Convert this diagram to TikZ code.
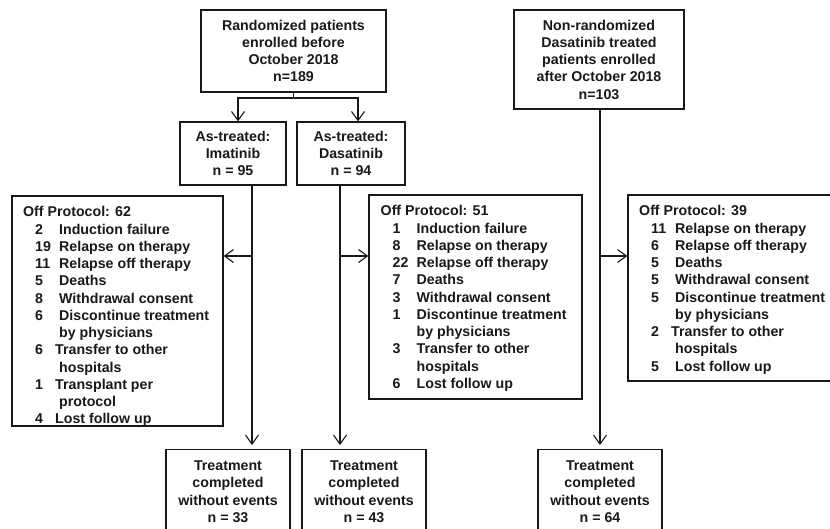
\documentclass[tikz,border=0pt]{standalone}
\usepackage{fontspec}
\setmainfont{Liberation Sans}
\usetikzlibrary{arrows.meta}
\newcommand\offitem[2][24pt]{\hspace*{12pt}\makebox[#1][l]{#2}}
\newcommand\offcont{\hspace*{36pt}}
\begin{document}
\begin{tikzpicture}[x=1pt,y=-1pt,
  every node/.style={font=\fontsize{14.2}{17.25}\selectfont\bfseries, text=black!90},
  box/.style={draw=black!90, line width=1.2pt, inner sep=0pt, align=center},
  conn/.style={draw=black!90, line width=1.1pt},
  arr/.style={conn, -{Straight Barb[length=9pt,width=13pt,line width=1.1pt]}},
  lst/.style={anchor=north west, inner sep=0pt}]
\path[use as bounding box, clip] (0,0) rectangle (830,528);
\fill[white] (0,0) rectangle (830,528);

% top boxes
\node[box, minimum width=185pt, minimum height=82pt] (rand) at (293.5,51)
  {Randomized patients\\enrolled before\\October 2018\\n=189};
\node[box, minimum width=106pt, minimum height=63pt] (imat) at (233,153.5)
  {As-treated:\\Imatinib\\n = 95};
\node[box, minimum width=108pt, minimum height=63pt] (dasa) at (351,153.5)
  {As-treated:\\Dasatinib\\n = 94};
\node[box, minimum width=170pt, minimum height=99pt] (nonr) at (599,59.5)
  {Non-randomized\\Dasatinib treated\\patients enrolled\\after October 2018\\n=103};

% off protocol boxes
\node[box, minimum width=211pt, minimum height=230pt] (off62) at (117.5,311) {};
\node[box, minimum width=213pt, minimum height=204pt] (off51) at (475.5,297) {};
\node[box, minimum width=204pt, minimum height=186pt] (off39) at (730,288) {};

\node[lst] (t62) at (23,204.7) {\begin{tabular}{@{}l@{}}
Off Protocol: 62\\
\offitem{2}Induction failure\\
\offitem{19}Relapse on therapy\\
\offitem{11}Relapse off therapy\\
\offitem{5}Deaths\\
\offitem{8}Withdrawal consent\\
\offitem{6}Discontinue treatment\\
\offcont by physicians\\
\offitem[20pt]{6}Transfer to other\\
\offcont hospitals\\
\offitem[20pt]{1}Transplant per\\
\offcont protocol\\
\offitem[20pt]{4}Lost follow up
\end{tabular}};

\node[lst] (t51) at (380.5,203.7) {\begin{tabular}{@{}l@{}}
Off Protocol: 51\\
\offitem{1}Induction failure\\
\offitem{8}Relapse on therapy\\
\offitem{22}Relapse off therapy\\
\offitem{7}Deaths\\
\offitem{3}Withdrawal consent\\
\offitem{1}Discontinue treatment\\
\offcont by physicians\\
\offitem{3}Transfer to other\\
\offcont hospitals\\
\offitem{6}Lost follow up
\end{tabular}};

\node[lst] (t39) at (639,203.7) {\begin{tabular}{@{}l@{}}
Off Protocol: 39\\
\offitem{11}Relapse on therapy\\
\offitem{6}Relapse off therapy\\
\offitem{5}Deaths\\
\offitem{5}Withdrawal consent\\
\offitem{5}Discontinue treatment\\
\offcont by physicians\\
\offitem[20pt]{2}Transfer to other\\
\offcont hospitals\\
\offitem{5}Lost follow up
\end{tabular}};

% bottom boxes
\node[box, minimum width=124pt, minimum height=84pt, anchor=north] (t33) at (228,449)
  {Treatment\\completed\\without events\\n = 33};
\node[box, minimum width=124pt, minimum height=84pt, anchor=north] (t43) at (364,449)
  {Treatment\\completed\\without events\\n = 43};
\node[box, minimum width=124pt, minimum height=84pt, anchor=north] (t64) at (600,449)
  {Treatment\\completed\\without events\\n = 64};

% connectors
\coordinate (split) at (293.5,98);
\draw[conn] (rand.south) -- (split);
\draw[arr] (split) -| ([xshift=5pt]imat.north);
\draw[arr] (split) -| ([xshift=7pt]dasa.north);

\coordinate (lineI) at (252,256);
\coordinate (lineD) at (340,256);
\coordinate (lineN) at (600,256);
\draw[arr, shorten >=4pt] (imat.south -| lineI) -- (t33.north -| lineI);
\draw[arr] (lineI) -- (off62.east |- lineI);
\draw[arr, shorten >=4pt] (dasa.south -| lineD) -- (t43.north -| lineD);
\draw[arr] (lineD) -- (off51.west |- lineD);
\draw[arr, shorten >=4pt] (nonr.south -| lineN) -- (t64.north -| lineN);
\draw[arr] (lineN) -- (off39.west |- lineN);
\end{tikzpicture}
\end{document}
